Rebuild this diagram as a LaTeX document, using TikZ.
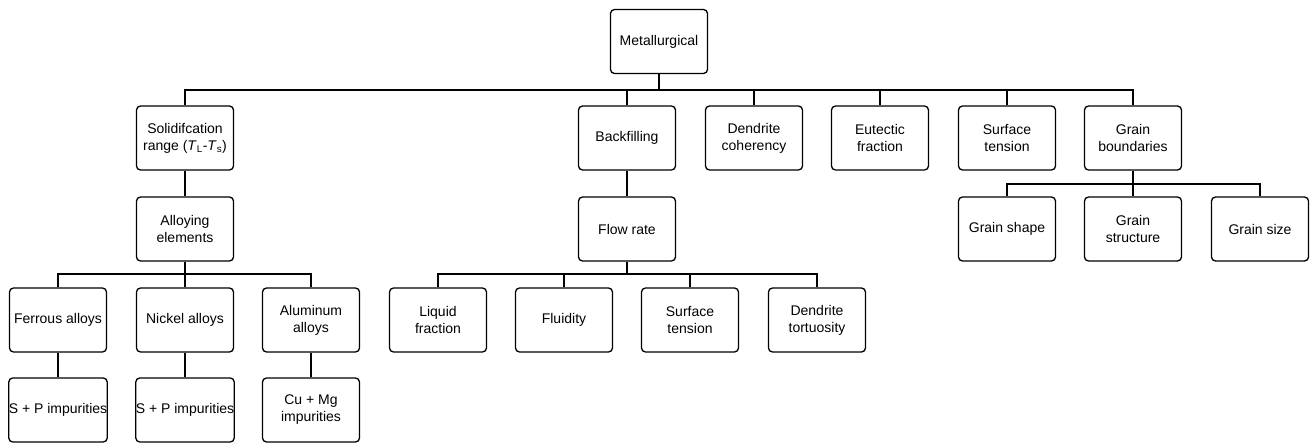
\documentclass[tikz,border=0pt]{standalone}
\usepackage{fontspec}
\setmainfont{Liberation Sans}
\begin{document}
\begin{tikzpicture}[x=1pt,y=-1pt,
  box/.style={draw, line width=1.3pt, rounded corners=4pt, minimum width=97pt, minimum height=64pt, inner sep=0pt, align=center, font=\fontsize{14}{17}\selectfont},
  conn/.style={line width=1.1pt},
  pstub/.style={line width=2pt}]
\useasboundingbox (0,0) rectangle (1314,443);
% row 1
\node[box] (meta) at (659,41.5) {Metallurgical};
% row 2
\node[box] (sol) at (185,138) {Solidifcation\\range (\textit{T}\textsubscript{L}-\textit{T}\textsubscript{s})};
\node[box] (back) at (627,138) {Backfilling};
\node[box] (dc) at (754,138) {Dendrite\\coherency};
\node[box] (eut) at (880,138) {Eutectic\\fraction};
\node[box] (st1) at (1007,138) {Surface\\tension};
\node[box] (gb) at (1133,138) {Grain\\boundaries};
% row 3
\node[box] (alloy) at (185,229) {Alloying\\elements};
\node[box] (flow) at (627,229) {Flow rate};
\node[box] (gs) at (1007,229) {Grain shape};
\node[box] (gstr) at (1133,229) {Grain\\structure};
\node[box] (gsize) at (1260,229) {Grain size};
% row 4
\node[box] (fer) at (58,320) {Ferrous alloys};
\node[box] (nic) at (185,320) {Nickel alloys};
\node[box] (alu) at (311,320) {Aluminum\\alloys};
\node[box] (lf) at (438,320) {Liquid\\fraction};
\node[box] (flu) at (564,320) {Fluidity};
\node[box] (st2) at (690,320) {Surface\\tension};
\node[box] (dt) at (817,320) {Dendrite\\tortuosity};
% row 5
\node[box] (sp1) at (58,410) {S + P impurities};
\node[box] (sp2) at (185,410) {S + P impurities};
\node[box] (cu) at (311,410) {Cu + Mg\\impurities};
% bus coordinates
\coordinate (mb) at (659,90);
\coordinate (ab) at (185,274);
\coordinate (fb) at (627,274);
\coordinate (gbb) at (1133,184);
% connectors
\draw[pstub] (meta.south) -- (mb);
\foreach \c in {sol,back,dc,eut,st1,gb} \draw[conn] (\c.north) |- (mb);
\draw[pstub] (sol.south) -- (alloy.north);
\draw[pstub] (back.south) -- (flow.north);
\draw[pstub] (alloy.south) -- (ab);
\foreach \c in {fer,nic,alu} \draw[conn] (\c.north) |- (ab);
\draw[pstub] (flow.south) -- (fb);
\foreach \c in {lf,flu,st2,dt} \draw[conn] (\c.north) |- (fb);
\draw[pstub] (gb.south) -- (gbb);
\foreach \c in {gs,gstr,gsize} \draw[conn] (\c.north) |- (gbb);
\draw[pstub] (fer.south) -- (sp1.north);
\draw[pstub] (nic.south) -- (sp2.north);
\draw[pstub] (alu.south) -- (cu.north);
\end{tikzpicture}
\end{document}
